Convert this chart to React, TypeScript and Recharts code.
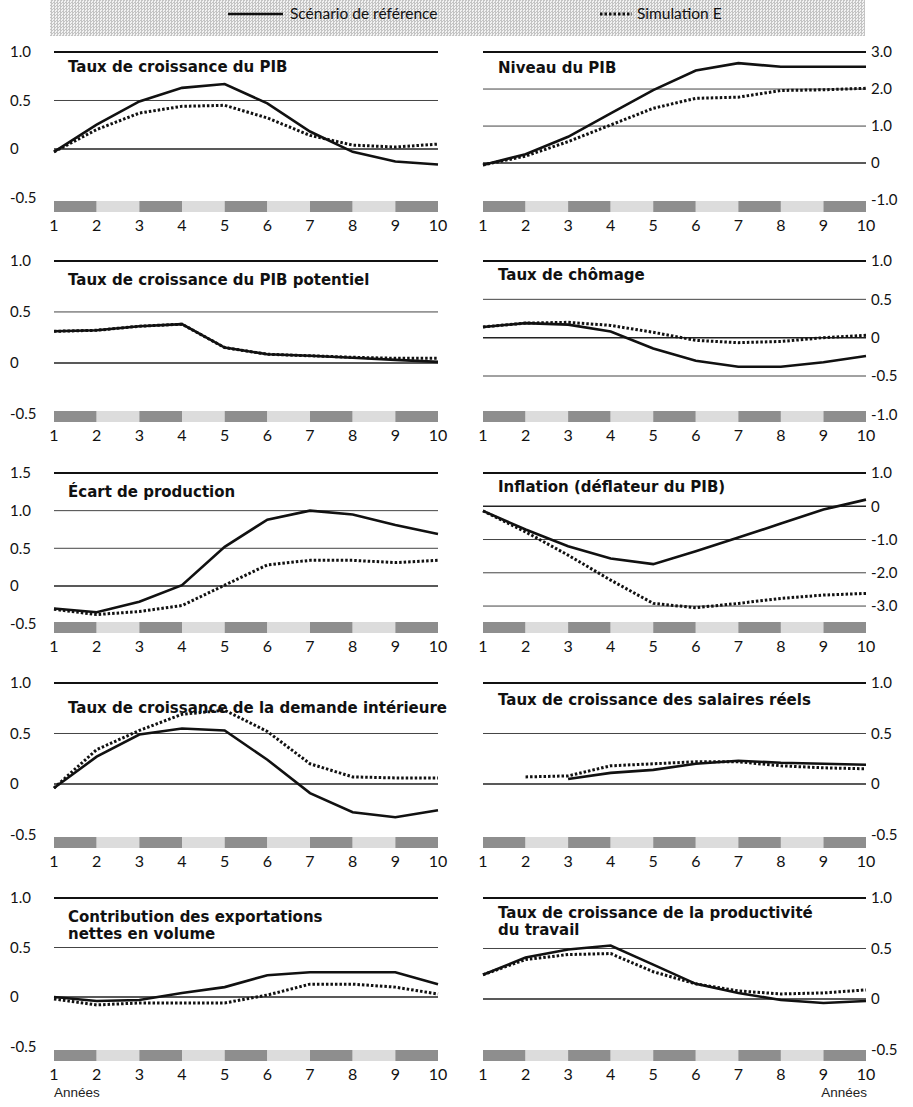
import React from "react";
import { LineChart, Line, XAxis, YAxis, ReferenceLine, ReferenceArea } from "recharts";

const years = [1, 2, 3, 4, 5, 6, 7, 8, 9, 10];

// Scénario de référence (ref) / Simulation E (sim)
const pibGrowthRef = [-0.03, 0.25, 0.49, 0.63, 0.67, 0.47, 0.18, -0.03, -0.13, -0.16];
const pibGrowthSim = [-0.03, 0.2, 0.37, 0.44, 0.45, 0.32, 0.14, 0.04, 0.02, 0.05];
const pibLevelRef = [-0.05, 0.24, 0.71, 1.34, 1.97, 2.5, 2.7, 2.6, 2.6, 2.6];
const pibLevelSim = [-0.05, 0.19, 0.58, 1.03, 1.48, 1.75, 1.78, 1.96, 1.98, 2.02];
const potentialRef = [0.31, 0.32, 0.36, 0.38, 0.15, 0.085, 0.07, 0.05, 0.03, 0.01];
const potentialSim = [0.31, 0.32, 0.36, 0.38, 0.15, 0.085, 0.07, 0.055, 0.045, 0.045];
const unempRef = [0.14, 0.19, 0.17, 0.08, -0.14, -0.3, -0.38, -0.38, -0.32, -0.24];
const unempSim = [0.14, 0.19, 0.2, 0.16, 0.07, -0.035, -0.065, -0.05, 0.0, 0.03];
const gapRef = [-0.3, -0.35, -0.21, 0.01, 0.52, 0.88, 1.0, 0.95, 0.81, 0.69];
const gapSim = [-0.31, -0.38, -0.34, -0.26, 0.01, 0.28, 0.34, 0.34, 0.31, 0.34];
const inflRef = [-0.14, -0.7, -1.2, -1.57, -1.74, -1.35, -0.94, -0.52, -0.1, 0.2];
const inflSim = [-0.14, -0.77, -1.47, -2.22, -2.92, -3.05, -2.92, -2.77, -2.67, -2.62];
const demandRef = [-0.04, 0.27, 0.49, 0.55, 0.53, 0.24, -0.09, -0.28, -0.33, -0.26];
const demandSim = [-0.04, 0.34, 0.53, 0.69, 0.73, 0.52, 0.2, 0.07, 0.06, 0.06];
const wagesRef = [null, null, 0.05, 0.11, 0.14, 0.2, 0.23, 0.21, 0.2, 0.19];
const wagesSim = [null, 0.07, 0.08, 0.18, 0.2, 0.22, 0.22, 0.18, 0.16, 0.15];
const exportsRef = [0, -0.04, -0.03, 0.04, 0.1, 0.22, 0.25, 0.25, 0.25, 0.13];
const exportsSim = [-0.02, -0.08, -0.06, -0.06, -0.06, 0.02, 0.13, 0.13, 0.1, 0.03];
const prodRef = [0.24, 0.41, 0.49, 0.53, 0.34, 0.15, 0.06, -0.01, -0.04, -0.02];
const prodSim = [0.24, 0.39, 0.44, 0.45, 0.27, 0.15, 0.08, 0.05, 0.06, 0.09];

const ticksHalf = [1, 0.5, 0, -0.5];

const panels = [
  { title: ["Taux de croissance du PIB"], ref: pibGrowthRef, sim: pibGrowthSim, side: "left", top: 52, bottom: 212, titleTop: 59, domain: [-0.65, 1], ticks: ticksHalf, grid: [1, 0.5, 0] },
  { title: ["Niveau du PIB"], ref: pibLevelRef, sim: pibLevelSim, side: "right", top: 52, bottom: 212, titleTop: 60, domain: [-1.32, 3], ticks: [3, 2, 1, 0, -1], grid: [3, 2, 1, 0] },
  { title: ["Taux de croissance du PIB potentiel"], ref: potentialRef, sim: potentialSim, side: "left", top: 261, bottom: 422, titleTop: 272, domain: [-0.58, 1], ticks: ticksHalf, grid: [1, 0.5, 0] },
  { title: ["Taux de chômage"], ref: unempRef, sim: unempSim, side: "right", top: 261, bottom: 422, titleTop: 267, domain: [-1.1, 1], ticks: [1, 0.5, 0, -0.5, -1], grid: [1, 0.5, 0, -0.5] },
  { title: ["Écart de production"], ref: gapRef, sim: gapSim, side: "left", top: 473, bottom: 633, titleTop: 484, domain: [-0.625, 1.5], ticks: [1.5, 1, 0.5, 0, -0.5], grid: [1.5, 1, 0.5, 0] },
  { title: ["Inflation (déflateur du PIB)"], ref: inflRef, sim: inflSim, side: "right", top: 473, bottom: 633, titleTop: 479, domain: [-3.81, 1], ticks: [1, 0, -1, -2, -3], grid: [1, 0, -1, -2, -3] },
  { title: ["Taux de croissance de la demande intérieure"], ref: demandRef, sim: demandSim, side: "left", top: 683, bottom: 848, titleTop: 700, domain: [-0.634, 1], ticks: ticksHalf, grid: [1, 0.5, 0] },
  { title: ["Taux de croissance des salaires réels"], ref: wagesRef, sim: wagesSim, side: "right", top: 683, bottom: 848, titleTop: 692, domain: [-0.634, 1], ticks: ticksHalf, grid: [1, 0.5, 0] },
  { title: ["Contribution des exportations", "nettes en volume"], ref: exportsRef, sim: exportsSim, side: "left", top: 898, bottom: 1061, titleTop: 909, domain: [-0.646, 1], ticks: ticksHalf, grid: [1, 0.5, 0] },
  { title: ["Taux de croissance de la productivité", "du travail"], ref: prodRef, sim: prodSim, side: "right", top: 898, bottom: 1061, titleTop: 905, domain: [-0.614, 1], ticks: ticksHalf, grid: [1, 0.5, 0] },
];

const fmt = (v: number) => (v === 0 ? "0" : v.toFixed(1));
const tickFont = "Lato, 'Open Sans', sans-serif";

const YTick = ({ y, payload, side }: any) => (
  <text
    x={side === "left" ? 10 : 413}
    y={y}
    dy="0.35em"
    textAnchor="start"
    fontSize={15}
    fontFamily={tickFont}
    fill="#111"
  >
    {fmt(payload.value)}
  </text>
);

const Panel = ({ p }: any) => {
  const padTop = 16;
  const axisH = 28;
  const plotH = p.bottom - p.top;
  const [min, max] = p.domain;
  const bandTop = min + (11 / plotH) * (max - min);
  const rows = years.map((year, i) => ({ year, ref: p.ref[i], sim: p.sim[i] }));
  const isLeft = p.side === "left";
  return (
    <>
      <div style={{ position: "absolute", left: isLeft ? 0 : 458, top: p.top - padTop }}>
        <LineChart
          width={455}
          height={plotH + padTop + axisH}
          data={rows}
          margin={{ top: padTop, right: isLeft ? 17 : 0, left: isLeft ? 0 : 25, bottom: 0 }}
        >
          <XAxis
            dataKey="year"
            type="number"
            domain={[1, 10]}
            ticks={years}
            interval={0}
            axisLine={false}
            tickLine={false}
            height={axisH}
            tick={{ fontSize: 16, fill: "#111", fontFamily: tickFont }}
          />
          <YAxis
            orientation={p.side}
            width={isLeft ? 54 : 47}
            domain={p.domain}
            ticks={p.ticks}
            interval={0}
            axisLine={false}
            tickLine={false}
            allowDataOverflow
            tick={<YTick side={p.side} />}
          />
          {years.slice(0, -1).map((yr, i) => (
            <ReferenceArea
              key={yr}
              x1={yr}
              x2={yr + 1}
              y1={min}
              y2={bandTop}
              fill={i % 2 === 0 ? "#8e8e8e" : "#dcdcdc"}
              fillOpacity={1}
              stroke="none"
            />
          ))}
          {p.grid.map((g: number) => (
            <ReferenceLine
              key={g}
              y={g}
              stroke={g === max ? "#111" : g === 0 ? "#222" : "#444"}
              strokeWidth={g === max ? 2 : g === 0 ? 1.5 : 1}
            />
          ))}
          <Line type="linear" dataKey="sim" stroke="#111" strokeWidth={3} strokeDasharray="2.5 2" dot={false} isAnimationActive={false} />
          <Line type="linear" dataKey="ref" stroke="#111" strokeWidth={2.6} dot={false} isAnimationActive={false} />
        </LineChart>
      </div>
      <div
        style={{
          position: "absolute",
          left: isLeft ? 68 : 498,
          top: p.titleTop,
          fontFamily: "'DejaVu Sans', sans-serif",
          fontWeight: "bold",
          fontSize: 15,
          lineHeight: "17px",
          color: "#111",
          whiteSpace: "nowrap",
        }}
      >
        {p.title.map((t: string) => (
          <div key={t}>{t}</div>
        ))}
      </div>
    </>
  );
};

export default function App() {
  return (
    <div style={{ position: "absolute", left: 0, top: 0, width: 913, height: 1107, background: "#fff", overflow: "hidden" }}>
      <div
        style={{
          position: "absolute",
          left: 50,
          top: 0,
          width: 815,
          height: 36,
          background: "repeating-conic-gradient(#c4c4c4 0 25%, #f2f2f2 0 50%) 0 0 / 3px 3px",
        }}
      />
      <svg style={{ position: "absolute", left: 0, top: 0 }} width={913} height={40}>
        <line x1={228} x2={283} y1={14} y2={14} stroke="#111" strokeWidth={2.6} />
        <line x1={600} x2={632} y1={14} y2={14} stroke="#111" strokeWidth={3} strokeDasharray="2.5 2" />
        <text x={290} y={19} fontSize={15.5} fontFamily={tickFont} fill="#111">Scénario de référence</text>
        <text x={637} y={19} fontSize={15.5} fontFamily={tickFont} fill="#111">Simulation E</text>
      </svg>
      {panels.map((p) => (
        <Panel key={p.title[0]} p={p} />
      ))}
      <div style={{ position: "absolute", left: 54, top: 1085, fontFamily: "'Liberation Sans', Arial, sans-serif", fontSize: 13.5, color: "#222" }}>
        Années
      </div>
      <div style={{ position: "absolute", right: 46, top: 1085, fontFamily: "'Liberation Sans', Arial, sans-serif", fontSize: 13.5, color: "#222" }}>
        Années
      </div>
    </div>
  );
}
